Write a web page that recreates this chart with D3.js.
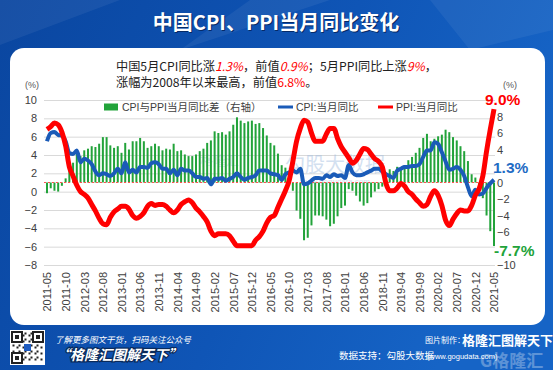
<!DOCTYPE html>
<html>
<head>
<meta charset="utf-8">
<script src="https://cdn.jsdelivr.net/npm/d3@7"></script>
<style>
body{margin:0;background:#0d52b0;}
text{font-family:"Liberation Sans","Noto Sans CJK SC",sans-serif;}
.cjk{font-family:"Noto Sans CJK SC",sans-serif;}
</style>
</head>
<body>
<div id="chart"></div>
<script>
// datos: IPC, IPP y diferencia (2011-05 .. 2021-05)
const cpi = [
  5.5,6.4,6.5,6.2,6.1,5.5,4.2,4.1,
  4.5,3.2,3.6,3.4,3.0,2.2,1.8,2.0,1.9,1.7,2.0,2.5,
  2.0,3.2,2.1,2.4,2.1,2.7,2.7,2.6,3.1,3.2,3.0,2.5,
  2.5,2.0,2.4,1.8,2.5,2.3,2.3,2.0,1.6,1.6,1.4,1.5,
  0.8,1.4,1.4,1.5,1.2,1.4,1.6,2.0,1.6,1.3,1.5,1.6,
  1.8,2.3,2.3,2.3,2.0,1.9,1.8,1.3,1.9,2.1,2.3,2.1,
  2.5,0.8,0.9,1.2,1.5,1.5,1.4,1.8,1.6,1.9,1.7,1.8,
  1.5,2.9,2.1,1.8,1.8,1.9,2.1,2.3,2.5,2.5,2.2,1.9,
  1.7,1.5,2.3,2.5,2.7,2.7,2.8,2.8,3.0,3.8,4.5,4.5,
  5.4,5.2,4.3,3.3,2.4,2.5,2.7,2.4,1.7,0.5,-0.5,0.2,
  -0.3,-0.2,0.4,0.9,1.3
];
const ppi = [
  6.8,7.1,7.5,7.3,6.5,5.0,2.7,1.7,
  0.7,0.0,-0.3,-0.7,-1.4,-2.1,-2.9,-3.5,-3.6,-2.8,-2.2,-1.9,
  -1.6,-1.6,-1.9,-2.6,-2.9,-2.7,-2.3,-1.6,-1.3,-1.5,-1.4,-1.4,
  -1.6,-2.0,-2.3,-2.0,-1.4,-1.1,-0.9,-1.2,-1.8,-2.2,-2.7,-3.3,
  -4.3,-4.8,-4.6,-4.6,-4.6,-4.8,-5.4,-5.9,-5.9,-5.9,-5.9,-5.9,
  -5.3,-4.9,-4.3,-3.4,-2.8,-2.6,-1.7,-0.8,0.1,1.2,3.3,5.5,
  6.9,7.8,7.6,6.4,5.5,5.5,5.5,6.3,6.9,6.9,5.8,4.9,
  4.3,3.7,3.1,3.4,4.1,4.7,4.6,4.1,3.6,3.3,2.7,0.9,
  0.1,0.1,0.4,0.9,0.6,0.0,-0.3,-0.8,-1.2,-1.6,-1.4,-0.5,
  0.1,-0.4,-1.5,-3.1,-3.7,-3.0,-2.4,-2.0,-2.1,-2.1,-1.5,-0.4,
  0.3,1.7,4.4,6.8,9.0
];
const diff = [
  -1.3,-0.7,-1.0,-1.1,-0.4,0.5,1.5,2.4,
  3.8,3.2,3.9,4.1,4.4,4.3,4.7,5.5,5.5,4.5,4.2,4.4,
  3.6,4.8,4.0,5.0,5.0,5.4,5.0,4.2,4.4,4.7,4.4,3.9,
  4.1,4.0,4.7,3.8,3.9,3.4,3.2,3.2,3.4,3.8,4.1,4.8,
  5.1,6.2,6.0,6.1,5.8,6.2,7.0,7.9,7.5,7.2,7.4,7.5,
  7.1,7.2,6.6,5.7,4.8,4.5,3.5,2.1,1.8,0.9,-1.0,-3.4,
  -4.4,-7.0,-6.7,-5.2,-4.0,-4.0,-4.1,-4.5,-5.3,-5.0,-4.1,-3.1,
  -2.8,-0.8,-1.0,-1.6,-2.3,-2.8,-2.5,-1.8,-1.1,-0.8,-0.5,1.0,
  1.6,1.4,1.9,1.6,2.1,2.7,3.1,3.6,4.2,5.4,5.9,5.0,
  5.3,5.6,5.8,6.4,6.1,5.5,5.1,4.4,3.8,2.6,1.0,0.6,
  -0.6,-1.9,-4.0,-5.9,-7.7
];
const xTicks = ['2011-05','2011-10','2012-03','2012-08','2013-01','2013-06','2013-11','2014-04','2014-09',
  '2015-02','2015-07','2015-12','2016-05','2016-10','2017-03','2017-08','2018-01','2018-06','2018-11',
  '2019-04','2019-09','2020-02','2020-07','2020-12','2021-05'];
const leftTicks = [-8,-6,-4,-2,0,2,4,6,8,10];
// 2 y -8 quedan tapados por las etiquetas finales
const rightTicks = [-10,-6,-4,-2,0,4,6,8];
const months = d3.timeMonth.range(new Date(2011,4,1), new Date(2021,5,1)).map(d3.timeFormat('%Y-%m'));

const width = 553;
const height = 370;
const svg = d3.select('div#chart').append('svg').attr('width',width).attr('height',height);

// fondo azul
const defs = svg.append('defs');
const grad = defs.append('linearGradient').attr('id','bg').attr('x1',0).attr('y1',0).attr('x2',1).attr('y2',0.3);
grad.append('stop').attr('offset',0).attr('stop-color','#0a46a0');
grad.append('stop').attr('offset',0.6).attr('stop-color','#0f55b6');
grad.append('stop').attr('offset',1).attr('stop-color','#1664c6');
svg.append('rect').attr('width',width).attr('height',height).attr('fill','url(#bg)');
[[0,0,120,0,0,45],[250,0,330,0,180,50],[430,0,553,0,553,30,470,50]].forEach(p => {
  const pts = [];
  for (let i = 0; i < p.length; i += 2) pts.push(p[i]+','+p[i+1]);
  svg.append('polygon').attr('points',pts.join(' ')).attr('fill','#ffffff').attr('opacity',0.06);
});

// titulo
svg.append('text').attr('class','cjk').attr('x',277).attr('y',31).attr('text-anchor','middle')
  .attr('font-size',20).attr('font-weight','bold').attr('fill','#062a66').text('中国CPI、PPI当月同比变化');
svg.append('text').attr('class','cjk').attr('x',276).attr('y',30).attr('text-anchor','middle')
  .attr('font-size',20).attr('font-weight','bold').attr('fill','#ffffff').text('中国CPI、PPI当月同比变化');

// panel blanco
svg.append('rect').attr('x',10).attr('y',48).attr('width',535).attr('height',277).attr('rx',14).attr('fill','#ffffff');

// texto de nota
const note = svg.append('g').attr('class','cjk').attr('font-size',12.2).attr('fill','#222');
const line1 = note.append('text').attr('class','cjk').attr('x',116).attr('y',71);
[['中国5月CPI同比涨',0],['1.3%',1],['，前值',0],['0.9%',1],['；5月PPI同比上涨',0],['9%',1],['，',0]].forEach(s => {
  const t = line1.append('tspan').text(s[0]);
  if (s[1]) t.attr('fill','#ff0000').attr('font-style','italic');
});
const line2 = note.append('text').attr('class','cjk').attr('x',116).attr('y',87);
line2.append('tspan').text('涨幅为2008年以来最高，前值');
line2.append('tspan').attr('fill','#ff0000').text('6.8%');
line2.append('tspan').text('。');

// escalas
const x = d3.scalePoint().domain(months).range([47,494]);
const yL = d3.scaleLinear().domain([-8,10]).range([265,100]);
const yR = d3.scaleLinear().domain([-10,10]).range([265,100]);

// rejilla
const gridGroup = svg.append('g').attr('transform',`translate(44,0)`)
  .call(d3.axisLeft(yL).tickValues(leftTicks).tickSize(-451).tickFormat(''));
gridGroup.select('.domain').remove();
gridGroup.selectAll('line').attr('stroke','#d9d9d9').attr('stroke-width',1);

// ejes
const yAxisGroup = svg.append('g').attr('transform',`translate(40,0)`)
  .call(d3.axisLeft(yL).tickValues(leftTicks).tickSize(0).tickPadding(3));
const yAxisRGroup = svg.append('g').attr('transform',`translate(494,0)`)
  .call(d3.axisRight(yR).tickValues(rightTicks).tickSize(0).tickPadding(3));
const xAxisGroup = svg.append('g').attr('transform',`translate(0,268)`)
  .call(d3.axisBottom(x).tickValues(xTicks).tickSize(0));
[yAxisGroup, yAxisRGroup, xAxisGroup].forEach(g => {
  g.select('.domain').remove();
  g.selectAll('text').attr('font-size',11).attr('fill','#404040')
    .style('font-family','"Liberation Sans",sans-serif');
});
xAxisGroup.selectAll('text').attr('x',-4).attr('y',0).attr('dy','0.35em')
  .attr('transform','rotate(-90)').style('text-anchor','end');

svg.append('text').attr('x',32).attr('y',88).attr('text-anchor','middle').attr('font-size',9).attr('fill','#555').text('(%)');
svg.append('text').attr('x',510).attr('y',88).attr('text-anchor','middle').attr('font-size',9).attr('fill','#555').text('(%)');

// marca de agua
svg.append('text').attr('class','cjk').attr('x',285).attr('y',172).attr('font-size',20).attr('fill','#9fbbe0').attr('opacity',0.45).text('勾股大数据');
svg.append('text').attr('x',300).attr('y',184).attr('font-size',8).attr('fill','#9fbbe0').attr('opacity',0.45).text('www.gogudata.com');
svg.append('text').attr('class','cjk').attr('x',200).attr('y',165).attr('font-size',13).attr('fill','#9fbbe0').attr('opacity',0.35).text('格隆汇');

const elementGroup = svg.append('g').attr('class','elementGroup');

// barras (eje derecho)
elementGroup.selectAll('rect.bar').data(diff).enter().append('rect')
  .attr('class','bar')
  .attr('x',(d,i) => x(months[i]) - 1)
  .attr('y',d => Math.min(yR(d), yR(0)))
  .attr('width',2)
  .attr('height',d => Math.abs(yR(d) - yR(0)))
  .attr('fill','#22a33a');

elementGroup.append('line')
  .attr('x1',44).attr('x2',495).attr('y1',yR(0)).attr('y2',yR(0))
  .attr('stroke','#ff5050').attr('stroke-width',1).attr('stroke-dasharray','2,2');

const line = d3.line().x((d,i) => x(months[i])).y(d => yL(d)).curve(d3.curveMonotoneX);
elementGroup.append('path').datum(cpi).attr('d',line)
  .attr('fill','none').attr('stroke','#1a5bb8').attr('stroke-width',4).attr('stroke-linejoin','round');
elementGroup.append('path').datum(ppi).attr('d',line)
  .attr('fill','none').attr('stroke','#ff0000').attr('stroke-width',5).attr('stroke-linejoin','round');

// etiquetas finales
svg.append('text').attr('x',485).attr('y',105).attr('font-size',15.5).attr('font-weight','bold').attr('fill','#ff0000').text('9.0%');
svg.append('text').attr('x',493).attr('y',173).attr('font-size',15.5).attr('font-weight','bold').attr('fill','#1f6cc4').text('1.3%');
svg.append('text').attr('x',494).attr('y',256).attr('font-size',15.5).attr('font-weight','bold').attr('fill','#22a33a').text('-7.7%');

// leyenda
const legend = svg.append('g').attr('font-size',10.5).attr('fill','#404040');
legend.append('rect').attr('x',104).attr('y',103.5).attr('width',14).attr('height',7).attr('fill','#22a33a');
legend.append('text').attr('x',122).attr('y',111).text('CPI与PPI当月同比差（右轴）');
legend.append('line').attr('x1',278).attr('x2',293).attr('y1',107).attr('y2',107).attr('stroke','#1a5bb8').attr('stroke-width',3);
legend.append('text').attr('x',296).attr('y',111).text('CPI:当月同比');
legend.append('line').attr('x1',378).attr('x2',393).attr('y1',107).attr('y2',107).attr('stroke','#ff0000').attr('stroke-width',3);
legend.append('text').attr('x',396).attr('y',111).text('PPI:当月同比');

// pie: QR
const qr = svg.append('g').attr('transform','translate(10,330)');
qr.append('rect').attr('width',35).attr('height',35).attr('fill','#ffffff');
for (let i = 0; i < 15; i++) {
  for (let j = 0; j < 15; j++) {
    if ((i*7 + j*11 + i*j) % 3 === 0) qr.append('rect').attr('x',2.5+i*2).attr('y',2.5+j*2).attr('width',2).attr('height',2).attr('fill','#222');
  }
}
[[2,2],[23,2],[2,23]].forEach(p => {
  qr.append('rect').attr('x',p[0]).attr('y',p[1]).attr('width',10).attr('height',10).attr('fill','#ffffff').attr('stroke','#222').attr('stroke-width',2);
  qr.append('rect').attr('x',p[0]+3).attr('y',p[1]+3).attr('width',4).attr('height',4).attr('fill','#222');
});
qr.append('rect').attr('x',14).attr('y',14).attr('width',7).attr('height',7).attr('fill','#1f5cc0');

svg.append('text').attr('class','cjk').attr('x',55).attr('y',343).attr('font-size',8.5).attr('font-style','italic').attr('fill','#ffffff').text('了解更多图文干货，扫码关注公众号');
svg.append('text').attr('class','cjk').attr('x',56).attr('y',360).attr('font-size',14).attr('font-weight','bold').attr('font-style','italic')
  .attr('fill','#ffffff').attr('stroke','#0a2a5a').attr('stroke-width',2.5).attr('paint-order','stroke').text('“格隆汇图解天下”');

svg.append('text').attr('class','cjk').attr('x',425).attr('y',343).attr('font-size',8).attr('fill','#ffffff').text('图片制作：');
svg.append('text').attr('class','cjk').attr('x',462).attr('y',345).attr('font-size',13).attr('font-weight','bold').attr('fill','#ffffff').text('格隆汇图解天下');
svg.append('text').attr('class','cjk').attr('x',339).attr('y',359).attr('font-size',9.5).attr('fill','#ffffff').text('数据支持：勾股大数据');
svg.append('text').attr('x',427).attr('y',359).attr('font-size',7.5).attr('fill','#ffffff').text('(www.gogudata.com)');
svg.append('text').attr('class','cjk').attr('x',480).attr('y',367).attr('font-size',17).attr('font-weight','bold').attr('fill','#ffffff').attr('opacity',0.3).text('G格隆汇');
</script>
</body>
</html>
